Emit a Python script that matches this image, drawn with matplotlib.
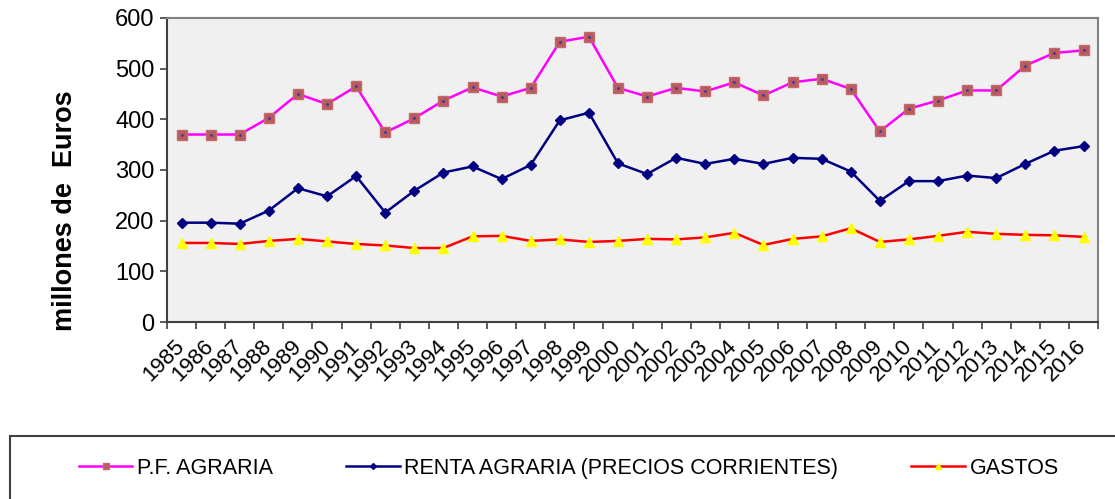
import matplotlib
matplotlib.use("Agg")
import matplotlib.pyplot as plt
from matplotlib.patches import Rectangle
import numpy as np

plt.rcParams['font.family'] = ['Liberation Sans', 'DejaVu Sans']

years = [str(y) for y in range(1985, 2017)]

pf_agraria = [370, 370, 370, 403, 450, 430, 465, 374, 402, 437, 463, 445, 462, 553, 563, 462,
              445, 462, 455, 473, 447, 473, 480, 460, 376, 421, 437, 457, 457, 506, 531, 536]
renta_agraria = [196, 196, 194, 220, 264, 248, 288, 216, 259, 295, 307, 282, 310, 398, 413, 313,
                 292, 324, 312, 322, 312, 324, 322, 297, 239, 278, 278, 289, 284, 312, 338, 347]
gastos = [156, 156, 154, 160, 164, 159, 154, 151, 146, 146, 169, 170, 160, 163, 158, 160,
          164, 163, 167, 176, 152, 164, 169, 185, 158, 163, 170, 178, 174, 172, 171, 168]

fig = plt.figure(figsize=(11.15, 4.99), dpi=100)
ax = fig.add_axes([0.1498, 0.3547, 0.835, 0.6093])
ax.set_facecolor('#f0f0f0')

x = np.arange(len(years))

ax.plot(x, pf_agraria, color='#ff00ff', lw=1.8, marker='s', ms=7,
        mfc='#b85a5e', mec='#c46a6e', label='P.F. AGRARIA')
ax.plot(x, pf_agraria, ls='none', marker='.', ms=2, color='#3a3aa0')
ax.plot(x, renta_agraria, color='#000080', lw=1.8, marker='D', ms=5,
        mfc='#000080', mec='#000080', label='RENTA AGRARIA (PRECIOS CORRIENTES)')
ax.plot(x, gastos, color='#ff0000', lw=1.8, marker='^', ms=7,
        mfc='#ffff00', mec='#ffff00', label='GASTOS')

ax.set_xlim(-0.5, len(years) - 0.5)
ax.set_ylim(0, 600)
ax.set_yticks(range(0, 601, 100))
ax.tick_params(axis='y', labelsize=17, length=5, width=1.2, color='#404040', pad=4)

ax.set_xticks(x)
ax.set_xticklabels(years, rotation=45, ha='right', va='center', rotation_mode='anchor', fontsize=16)
ax.tick_params(axis='x', which='major', length=0, pad=15)
ax.set_xticks(np.arange(-0.5, len(years)), minor=True)
ax.tick_params(axis='x', which='minor', length=5, width=1.2, color='#404040')

for side in ['left', 'bottom']:
    ax.spines[side].set_color('#404040')
    ax.spines[side].set_linewidth(1.5)
for side in ['top', 'right']:
    ax.spines[side].set_color('#808080')
    ax.spines[side].set_linewidth(1.5)

ax.set_ylabel('millones de  Euros', fontsize=19.5, fontweight='bold', va='center')
ax.yaxis.set_label_coords(-0.1096, 0.365)

# legend box at the bottom
fig.add_artist(Rectangle((10 / 1115, -0.05), 1.2, 0.05 + 63 / 499, transform=fig.transFigure,
                         fill=False, edgecolor='#404040', lw=1.5))
handles, labels = ax.get_legend_handles_labels()
fig.legend(handles, labels, loc='center', bbox_to_anchor=(0.51, 0.062), ncol=3,
           frameon=False, fontsize=15.5, handlelength=2.5, handletextpad=0.2,
           columnspacing=3.4, numpoints=1, markerscale=0.6)

fig.savefig('out.png', dpi=100)
